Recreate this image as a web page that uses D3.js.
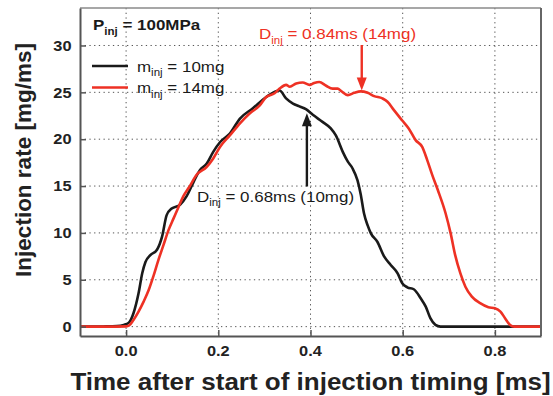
<!DOCTYPE html>
<html>
<head>
<meta charset="utf-8">
<script src="https://cdn.jsdelivr.net/npm/d3@7"></script>
<style>
  html,body{margin:0;padding:0;background:#fff;}
  svg{display:block;}
</style>
</head>
<body>
<svg id="chart" width="553" height="396"></svg>
<script>
/* ── data ── */
var timeBlack=[-0.1,-0.05,-0.02,-0.005,0.006,0.016,0.027,0.035,0.042,0.052,
  0.067,0.078,0.088,0.099,0.117,0.131,0.146,0.16,0.175,0.189,
  0.204,0.225,0.247,0.275,0.304,0.333,0.347,0.362,0.376,0.39,
  0.405,0.426,0.444,0.455,0.47,0.481,0.491,0.502,0.509,0.516,
  0.524,0.531,0.545,0.56,0.574,0.589,0.599,0.61,0.624,0.639,
  0.65,0.66,0.671,0.682,0.75,0.9];
var rateBlack=[0,0.02,0.05,0.18,0.43,1.43,3.56,5.7,6.9,7.6,
  8.2,9.6,11.9,12.6,13.0,13.9,15.4,16.7,17.4,18.65,
  19.7,20.6,22.2,23.3,24.5,25.2,24.35,23.8,23.5,23.2,
  22.6,21.85,21.15,20.4,18.65,17.6,16.9,15.6,14.1,12.1,
  10.8,9.95,9.06,7.46,6.58,5.69,4.63,4.2,3.99,3.03,
  2.13,0.9,0.18,0,0,0];

var timeRed=[-0.1,-0.05,0.0,0.006,0.016,0.027,0.038,0.049,0.06,0.07,
  0.081,0.092,0.103,0.114,0.124,0.137,0.153,0.175,0.189,0.204,
  0.225,0.247,0.268,0.29,0.304,0.322,0.333,0.347,0.355,0.369,
  0.383,0.398,0.408,0.419,0.434,0.448,0.459,0.466,0.481,0.495,
  0.509,0.524,0.538,0.556,0.567,0.581,0.599,0.613,0.628,0.642,
  0.653,0.664,0.676,0.693,0.704,0.714,0.725,0.736,0.75,0.768,
  0.786,0.8,0.812,0.822,0.833,0.842,0.9];
var rateRed=[0,0,0.03,0.1,0.71,1.6,2.67,3.9,5.5,7.1,
  8.7,10.3,11.55,12.8,13.9,14.9,16.2,17.05,17.95,19.2,
  20.4,21.7,22.75,23.6,24.5,24.9,25.4,25.8,25.6,25.95,
  26.05,25.8,26.0,26.1,25.7,25.4,25.4,25.16,24.7,24.95,
  25.1,24.95,24.6,24.35,24.0,23.1,22.0,21.15,19.9,19.2,
  17.8,16.2,14.6,12.1,9.95,7.6,5.7,4.26,3.2,2.5,
  2.07,1.96,1.6,0.9,0.18,0,0];

var xTicks=[0.0,0.2,0.4,0.6,0.8];
var yTicks=[0,5,10,15,20,25,30];
var seriesNames=['m','m'], seriesLabels=[' = 10mg',' = 14mg'];
var durBlack=0.68, durRed=0.84;   // annotated injection durations

var FONT='"Liberation Sans",Arial,Helvetica,sans-serif';
var SX=1.13;   // the reference text is a bit wide

/* ══════════════════════════════════════════════════
   CHART
   ══════════════════════════════════════════════════ */
var svg=d3.select('#chart');
var ml=80, mr=12, mt=8, mb=60;
var W=553, H=396;

var x=d3.scaleLinear().domain([-0.1,0.9]).range([ml,W-mr]);
var y=d3.scaleLinear().domain([-1,34]).range([H-mb,mt]);

// text with a horizontal stretch and optional "inj" subscripts
function label(parent,px,py,parts,size,weight,fill,anchor){
  var t=parent.append('text')
    .attr('transform','translate('+px+','+py+') scale('+SX+',1)')
    .attr('font-family',FONT).attr('font-size',size+'px')
    .attr('font-weight',weight||'normal').attr('fill',fill||'#1a1a1a')
    .attr('text-anchor',anchor||'start');
  var shift=0;
  parts.forEach(function(p){
    var sp=t.append('tspan').text(p[0]);
    if(p[1]){sp.attr('font-size',(size*0.68)+'px').attr('dy',size*0.3);shift=size*0.3;}
    else if(shift){sp.attr('dy',-shift);shift=0;}
  });
  return t;
}

// grid
var grid=svg.append('g');
xTicks.forEach(function(v){
  grid.append('line').attr('x1',x(v)).attr('x2',x(v)).attr('y1',y.range()[1]).attr('y2',y.range()[0])
    .attr('stroke','#555').attr('stroke-width',1).attr('stroke-dasharray','1.3,3.4');
});
yTicks.forEach(function(v){
  grid.append('line').attr('x1',x.range()[0]).attr('x2',x.range()[1]).attr('y1',y(v)).attr('y2',y(v))
    .attr('stroke','#555').attr('stroke-width',1).attr('stroke-dasharray','1.3,3.4');
});

// curves
var line=d3.line().x(function(d){return x(d[0])}).y(function(d){return y(d[1])}).curve(d3.curveMonotoneX);
var black=d3.zip(timeBlack,rateBlack), red=d3.zip(timeRed,rateRed);
svg.append('path').datum(black).attr('d',line).attr('fill','none')
  .attr('stroke','#1a1a1a').attr('stroke-width',2.6).attr('stroke-linejoin','round');
svg.append('path').datum(red).attr('d',line).attr('fill','none')
  .attr('stroke','#ee3124').attr('stroke-width',2.6).attr('stroke-linejoin','round');

// frame
svg.append('line').attr('x1',x.range()[0]).attr('x2',x.range()[1]).attr('y1',mt).attr('y2',mt)
  .attr('stroke','#8a8a8a').attr('stroke-width',1.5);
svg.append('line').attr('x1',x.range()[1]).attr('x2',x.range()[1]).attr('y1',mt).attr('y2',H-mb)
  .attr('stroke','#666').attr('stroke-width',2);

// axes with inward ticks
var xAxis=svg.append('g').attr('transform','translate(0,'+(H-mb)+')')
  .call(d3.axisBottom(x).tickValues(xTicks).tickSizeInner(-6).tickSizeOuter(0).tickFormat(d3.format('.1f')));
var yAxis=svg.append('g').attr('transform','translate('+ml+',0)')
  .call(d3.axisLeft(y).tickValues(yTicks).tickSizeInner(-6).tickSizeOuter(0).tickFormat(d3.format('d')));
[xAxis,yAxis].forEach(function(a){
  a.select('.domain').attr('stroke','#555').attr('stroke-width',2);
  a.selectAll('.tick line').attr('stroke','#555').attr('stroke-width',1.5);
  a.selectAll('.tick text').remove();
});
xTicks.forEach(function(v){label(svg,x(v),356,[[d3.format('.1f')(v)]],14.5,'bold','#222','middle');});
yTicks.forEach(function(v){label(svg,71.5,y(v)+5.2,[[String(v)]],14.5,'bold','#222','end');});

// axis titles
label(svg,(x.range()[0]+x.range()[1])/2,390,[['Time after start of injection timing [ms]']],23,'bold','#222','middle');
svg.append('text').attr('transform','translate(31,160) rotate(-90)')
  .attr('text-anchor','middle').attr('font-family',FONT).attr('font-size','22.5px')
  .attr('font-weight','bold').attr('fill','#222').text('Injection rate [mg/ms]');

// pressure label
label(svg,93,30,[['P'],['inj',1],[' = 100MPa']],15,'bold','#1a1a1a');

// legend
var legY=[66,87.5], legC=['#1a1a1a','#ee3124'];
legY.forEach(function(ly,i){
  svg.append('line').attr('x1',92).attr('x2',128).attr('y1',ly).attr('y2',ly)
    .attr('stroke',legC[i]).attr('stroke-width',2.6);
  label(svg,137,ly+5.8,[[seriesNames[i]],['inj',1],[seriesLabels[i]]],15,'normal','#1a1a1a');
});

// duration annotations with arrows
function arrow(px,y0,y1,col){
  var dir=y1>y0?1:-1;
  svg.append('line').attr('x1',px).attr('x2',px).attr('y1',y0).attr('y2',y1-dir*12)
    .attr('stroke',col).attr('stroke-width',2.4);
  svg.append('path').attr('d','M'+(px-5)+','+(y1-dir*13)+'L'+(px+5)+','+(y1-dir*13)+'L'+px+','+y1+'Z')
    .attr('fill',col);
}
var redAt=d3.bisectLeft(timeRed,0.509), blackAt=d3.bisectLeft(timeBlack,0.39);
arrow(x(timeRed[redAt])+1,45,y(rateRed[redAt])-1,'#ee3124');
arrow(x(timeBlack[blackAt])+1,186.5,y(rateBlack[blackAt])+4,'#1a1a1a');
label(svg,259,39.3,[['D'],['inj',1],[' = '+durRed.toFixed(2)+'ms (14mg)']],15,'normal','#ee3124');
label(svg,197,201.7,[['D'],['inj',1],[' = '+durBlack.toFixed(2)+'ms (10mg)']],15,'normal','#1a1a1a');
</script>
</body>
</html>
